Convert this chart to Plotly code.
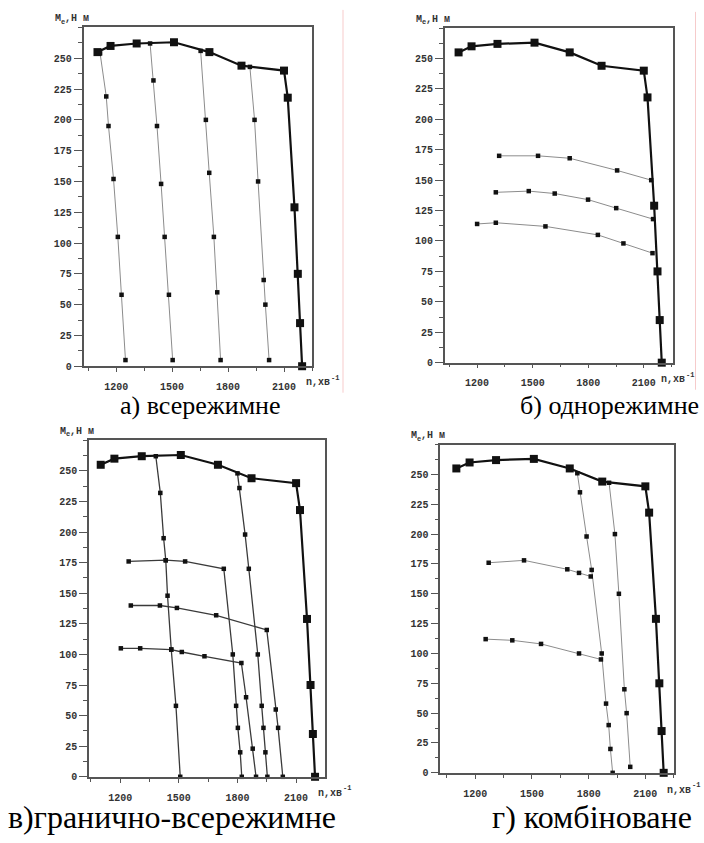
import plotly.graph_objects as go

W, H = 704, 843

# External speed characteristic (full fuel feed), shared by all four panels
n_ext = [1100, 1170, 1310, 1510, 1700, 1872, 2100, 2120, 2156, 2174, 2186, 2197]
m_ext = [255, 260, 262, 263, 255, 244, 240, 218, 129, 75, 35, 0]

# а) all-speed governor branches
a1_n = [1114, 1147, 1159, 1186, 1209, 1229, 1250]
a1_m = [254, 219, 195, 152, 105, 58, 5]
a2_n = [1382, 1400, 1419, 1441, 1460, 1483, 1503]
a2_m = [262, 232, 195, 148, 105, 58, 5]
a3_n = [1653, 1681, 1699, 1724, 1742, 1760]
a3_m = [256, 200, 157, 105, 60, 5]
a4_n = [1917, 1942, 1961, 1991, 2000, 2020]
a4_m = [243, 200, 150, 70, 50, 5]

# б) single-speed governor: partial-load characteristics
b1_n = [1319, 1529, 1700, 1956, 2140]
b1_m = [170, 170, 168, 158, 150]
b2_n = [1301, 1479, 1619, 1799, 1951, 2150]
b2_m = [140, 141, 139, 134, 127, 118]
b3_n = [1200, 1301, 1569, 1852, 1990, 2147]
b3_m = [114, 115, 112, 105, 98, 90]

# в) limiting all-speed governor
c1_n = [1382, 1405, 1422, 1433, 1442, 1461, 1485, 1507]
c1_m = [262, 232, 195, 177, 148, 104, 58, 0]
c2_n = [1243, 1433, 1532, 1730, 1776, 1793, 1802, 1814, 1822]
c2_m = [176, 177, 176, 170, 100, 58, 40, 20, 0]
c3_n = [1254, 1403, 1490, 1691, 1950, 1996, 2008, 2032]
c3_m = [140, 140, 138, 132, 120, 55, 40, 0]
c4_n = [1203, 1302, 1461, 1515, 1631, 1820, 1844, 1878, 1895]
c4_m = [105, 105, 104, 102, 98.5, 93, 65, 23, 0]
c5_n = [1800, 1810, 1839, 1858, 1904, 1924, 1933, 1943, 1953]
c5_m = [248, 236, 198, 170, 100, 58, 40, 20, 0]

# г) combined governor
d1_n = [1740, 1754, 1789, 1816, 1869, 1892, 1906, 1915, 1927]
d1_m = [251, 235, 198, 170, 100, 58, 40, 20, 0]
d2_n = [1908, 1939, 1960, 1989, 2001, 2020]
d2_m = [243, 200, 150, 70, 50, 5]
d3_n = [1271, 1458, 1687, 1749, 1811]
d3_m = [176, 178, 170.5, 167.5, 164.5]
d4_n = [1255, 1396, 1548, 1749, 1865]
d4_m = [112, 111, 108, 100, 95]

x_ticks = [1200, 1500, 1800, 2100]
y_ticks = [0, 25, 50, 75, 100, 125, 150, 175, 200, 225, 250]

captions = ["а) всережимне", "б) однорежимне", "в)гранично-всережимне", "г) комбіноване"]
caption_size = [26, 26, 32, 32]

# panel frames in pixels: (left, right, top, bottom) and x ranges
frames = [
    (83.5, 312.0, 27.7, 369.3),
    (444.7, 672.5, 28.3, 365.7),
    (89.0, 325.0, 444.0, 783.3),
    (440.3, 673.7, 448.3, 779.3),
]
x_ranges = [[1025, 2250], [1025, 2255], [1040, 2248], [1015, 2250]]
caption_pos = [(200, 409), (609, 409), (171.5, 824), (592, 824)]
xlabel_pos = [(305, 386), (660, 383), (317, 800), (666, 797)]

branches = [
    [(a1_n, a1_m), (a2_n, a2_m), (a3_n, a3_m), (a4_n, a4_m)],
    [(b1_n, b1_m), (b2_n, b2_m), (b3_n, b3_m)],
    [(c1_n, c1_m), (c2_n, c2_m), (c3_n, c3_m), (c4_n, c4_m), (c5_n, c5_m)],
    [(d1_n, d1_m), (d2_n, d2_m), (d3_n, d3_m), (d4_n, d4_m)],
]
branch_color = ["#8c8c8c", "#8c8c8c", "#3a3a3a", "#8c8c8c"]
branch_width = [1.0, 1.0, 1.3, 1.0]

mono = "Liberation Mono"
txt_col = "#333333"
tick_font = dict(family=mono, size=10, color=txt_col, weight="bold")
frame_col = "#555555"

fig = go.Figure()
annotations, shapes = [], []
layout = dict(
    width=W, height=H, margin=dict(l=0, r=0, t=0, b=0),
    paper_bgcolor="white", plot_bgcolor="white", showlegend=False,
)


def label(x, y, text, size, anchor="left", family=mono, color=txt_col, weight="bold"):
    annotations.append(dict(
        xref="paper", yref="paper", x=x / W, y=1 - y / H,
        xanchor=anchor, yanchor="middle", showarrow=False, text=text,
        font=dict(family=family, size=size, color=color, weight=weight),
        borderpad=0,
    ))


for i in range(4):
    sfx = "" if i == 0 else str(i + 1)
    xa, ya = "x" + sfx, "y" + sfx
    left, right, top, bottom = frames[i]
    layout["xaxis" + sfx] = dict(
        domain=[left / W, right / W], range=x_ranges[i], anchor=ya,
        showline=True, mirror=True, linecolor=frame_col, linewidth=1.5,
        ticks="outside", ticklen=4, tickwidth=1.2, tickcolor=frame_col,
        tickvals=x_ticks, tickfont=tick_font, ticklabelstandoff=6,
        minor=dict(tick0=1050, dtick=150, ticks="outside", ticklen=3,
                   tickwidth=1, tickcolor=frame_col),
        showgrid=False, zeroline=False,
    )
    layout["yaxis" + sfx] = dict(
        domain=[1 - bottom / H, 1 - top / H], range=[0, 275], anchor=xa,
        showline=True, mirror=True, linecolor=frame_col, linewidth=1.5,
        ticks="outside", ticklen=8, tickwidth=1.2, tickcolor=frame_col,
        tickvals=y_ticks, tickfont=tick_font,
        minor=dict(tick0=0, dtick=12.5, ticks="outside", ticklen=4,
                   tickwidth=1, tickcolor=frame_col),
        showgrid=False, zeroline=False,
    )

    for bn, bm in branches[i]:
        fig.add_trace(go.Scatter(
            x=bn, y=bm, xaxis=xa, yaxis=ya, mode="lines+markers",
            line=dict(color=branch_color[i], width=branch_width[i]),
            marker=dict(symbol="square", size=4.5, color="#111111"),
            cliponaxis=False, hoverinfo="skip",
        ))
    fig.add_trace(go.Scatter(
        x=n_ext, y=m_ext, xaxis=xa, yaxis=ya, mode="lines+markers",
        line=dict(color="#111111", width=2.2),
        marker=dict(symbol="square", size=8, color="#111111"),
        cliponaxis=False, hoverinfo="skip",
    ))

    # torque axis title: M with subscript e, then units
    mx, my = left - 30, top - 9
    label(mx, my, "M", 10)
    label(mx + 6, my + 3, "e", 7)
    label(mx + 10, my, ",Н м", 10)

    # speed axis title: n, min^-1
    lx, ly = xlabel_pos[i]
    label(lx, ly, "n,хв", 10)
    label(lx + 25, ly - 5, "-1", 7)

    cx, cy = caption_pos[i]
    label(cx, cy, captions[i], caption_size[i], anchor="center",
          family="Liberation Serif", color="black", weight="normal")

# faint page-edge rules to the right of the top panels
for px, y0, y1 in [(343, 10, 396), (695.5, 12, 393)]:
    shapes.append(dict(
        type="line", xref="paper", yref="paper",
        x0=px / W, x1=px / W, y0=1 - y1 / H, y1=1 - y0 / H,
        line=dict(color="rgba(235,140,140,0.45)", width=1),
    ))

layout["annotations"] = annotations
layout["shapes"] = shapes
fig.update_layout(**layout)
fig.write_html("out.html")
